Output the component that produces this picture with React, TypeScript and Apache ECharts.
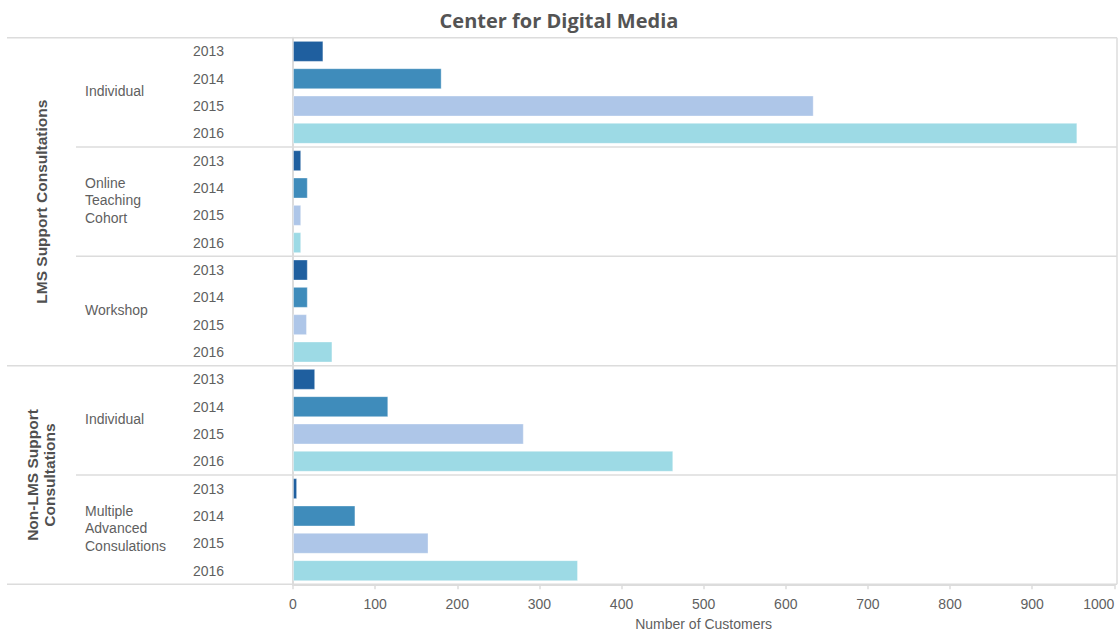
import React, { useEffect, useRef } from "react";
import * as echarts from "echarts";

const years = ["2013", "2014", "2015", "2016"];
const yearColors = ["#1f5f9f", "#3f8cbb", "#aec6e8", "#9ddae5"];

const groups = ["LMS Support Consultations", "Non-LMS Support\nConsultations"];
const subgroups = [
  { group: 0, name: "Individual" },
  { group: 0, name: "Online\nTeaching\nCohort" },
  { group: 0, name: "Workshop" },
  { group: 1, name: "Individual" },
  { group: 1, name: "Multiple\nAdvanced\nConsulations" },
];

const lmsIndividual = [37, 181, 634, 955];
const lmsOnlineCohort = [10, 18, 10, 10];
const lmsWorkshop = [18, 18, 17, 48];
const nonLmsIndividual = [27, 116, 281, 463];
const nonLmsMultiple = [5, 76, 165, 347];

const subgroupValues = [lmsIndividual, lmsOnlineCohort, lmsWorkshop, nonLmsIndividual, nonLmsMultiple];

const xTicksMax = 1000;
const xInterval = 100;

export default function App() {
  const ref = useRef<HTMLDivElement>(null);

  useEffect(() => {
    if (!ref.current) return;
    const chart = echarts.init(ref.current, null, { renderer: "svg" });

    const categories: string[] = [];
    const values: any[] = [];
    subgroupValues.forEach((vals, s) => {
      vals.forEach((v, y) => {
        categories.push(`${s}|${years[y]}`);
        values.push({ value: v, itemStyle: { color: yearColors[y] } });
      });
    });

    const textColor = "#5f5f5f";
    const font = "Liberation Sans, Arial, sans-serif";
    const lineColor = "#dcdcdc";

    chart.setOption({
      animation: false,
      title: {
        text: "Center for Digital Media",
        left: "center",
        top: 5,
        textStyle: {
          fontFamily: "Open Sans",
          fontWeight: "bold",
          fontSize: 20,
          color: "#545454",
        },
      },
      grid: {
        left: 293,
        right: 3.7,
        top: 37.7,
        bottom: 46.7,
        containLabel: false,
        outerBoundsMode: "none",
      },
      xAxis: {
        type: "value",
        min: 0,
        max: xTicksMax,
        interval: xInterval,
        axisLine: { show: true, lineStyle: { color: lineColor, width: 2 } },
        axisTick: { show: true, length: 5, lineStyle: { color: lineColor, width: 1.5 } },
        splitLine: { show: false },
        axisLabel: {
          color: textColor,
          fontSize: 14,
          fontFamily: font,
          margin: 13,
          alignMaxLabel: "right",
          formatter: (v: number) => String(v),
        },
        name: "Number of Customers",
        nameLocation: "middle",
        nameGap: 33,
        nameTextStyle: { color: textColor, fontSize: 14, fontFamily: font },
      },
      yAxis: {
        type: "category",
        inverse: true,
        data: categories,
        axisLine: { show: true, lineStyle: { color: lineColor, width: 2 } },
        axisTick: { show: false },
        splitLine: { show: false },
        axisLabel: {
          align: "left",
          margin: 100,
          color: textColor,
          fontSize: 14,
          fontFamily: font,
          formatter: (v: string) => v.split("|")[1],
        },
      },
      series: [
        {
          type: "bar",
          data: values,
          barWidth: 21,
          itemStyle: { borderColor: "rgba(255,255,255,0.35)", borderWidth: 1 },
        },
      ],
    });

    // Hierarchical row headers and separators, positioned from the category axis
    const c0 = chart.convertToPixel({ yAxisIndex: 0 }, 0) as number;
    const c1 = chart.convertToPixel({ yAxisIndex: 0 }, 1) as number;
    const band = c1 - c0;
    const rowTop = (i: number) => (chart.convertToPixel({ yAxisIndex: 0 }, i) as number) - band / 2;
    const xRight = 1117;
    const graphics: any[] = [];
    const hline = (x1: number, y: number) =>
      graphics.push({
        type: "line",
        shape: { x1, y1: y, x2: xRight, y2: y },
        style: { stroke: lineColor, lineWidth: 1.5 },
        z: 0,
      });

    const nRows = categories.length;
    hline(7, rowTop(0));
    hline(7, rowTop(nRows));
    graphics.push({
      type: "line",
      shape: { x1: xRight, y1: rowTop(0), x2: xRight, y2: rowTop(nRows) },
      style: { stroke: lineColor, lineWidth: 1.5 },
    });

    const groupRange: number[][] = groups.map(() => [Infinity, -Infinity]);
    subgroups.forEach((sg, s) => {
      const start = s * years.length;
      const end = start + years.length;
      if (s > 0) {
        const newGroup = subgroups[s - 1].group !== sg.group;
        hline(newGroup ? 7 : 76, rowTop(start));
      }
      const yc = (rowTop(start) + rowTop(end)) / 2;
      graphics.push({
        type: "text",
        x: 85,
        y: yc - 1.5,
        style: {
          text: sg.name,
          fill: textColor,
          font: `14px ${font}`,
          lineHeight: 17.5,
          textAlign: "left",
          textVerticalAlign: "middle",
        },
      });
      groupRange[sg.group][0] = Math.min(groupRange[sg.group][0], rowTop(start));
      groupRange[sg.group][1] = Math.max(groupRange[sg.group][1], rowTop(end));
    });

    groups.forEach((g, i) => {
      const yc = (groupRange[i][0] + groupRange[i][1]) / 2;
      graphics.push({
        type: "text",
        x: 41,
        y: yc,
        rotation: Math.PI / 2,
        style: {
          text: g,
          fill: "#505050",
          font: `bold 15.5px ${font}`,
          lineHeight: 17.5,
          textAlign: "center",
          textVerticalAlign: "middle",
        },
      });
    });

    chart.setOption({ graphic: graphics });

    return () => chart.dispose();
  }, []);

  return (
    <div
      ref={ref}
      style={{ position: "fixed", left: 0, top: 0, width: 1118, height: 631, background: "#fff" }}
    />
  );
}
